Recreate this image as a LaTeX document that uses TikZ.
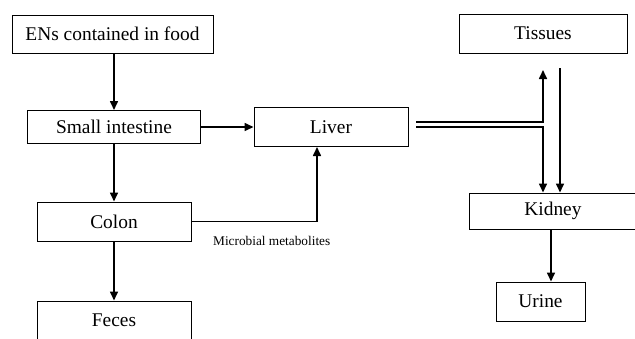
\documentclass[tikz,border=0pt]{standalone}
\usepackage{fontspec}
\setmainfont{Liberation Serif}
\usetikzlibrary{arrows.meta}

\begin{document}
\begin{tikzpicture}[x=1pt,y=-1pt,>={Triangle[length=9pt,width=8pt]},shorten >=0pt,
	box/.style={draw,line width=1pt,minimum height=39pt,inner sep=0pt,font=\fontsize{19.4}{22}\selectfont},
	flow/.style={->,line width=1.6pt}]

\clip (0,0) rectangle (635,338);

\node[box,minimum width=201pt,minimum height=38pt] (food)    at (112.5,34)  {ENs contained in food};
 \node[box,minimum width=173pt,minimum height=33pt] (small) at (114,127) {Small intestine};
	\node[box,minimum width=154pt] (liver)   at (331,127) {Liver};
	\node[box,minimum width=154pt] (colon)   at (114,221.5) {Colon};
	\node[box,minimum width=154pt] (feces)   at (114,320.5) {Feces};
	\node[box,minimum width=168pt] (tissues) at (543,33.5)  {Tissues};
	\node[box,minimum width=167pt,minimum height=36pt] (kidney)  at (553,211) {Kidney};
	\node[box,minimum width=89pt]  (urine)   at (540.5,301.5) {Urine};

	\node[anchor=west,inner sep=0pt,font=\fontsize{13.3}{15}\selectfont] (micro) at (213,241) {Microbial metabolites};

	\coordinate (upper) at (416,122);
	\coordinate (lower) at (416,127);
	\coordinate (up)    at (543,70);
	\coordinate (back)  at (560,68);

	\path (small.north |- food.south) edge[flow] (small.north)
		(small) edge[flow] (liver)
		(small) edge[flow] (colon)
		(colon) edge[flow] (feces);

	\draw[flow] (colon.east) -| ([xshift=-14pt]liver.south);

	\draw[flow] (upper) -| (up);
	\draw[flow] (lower) -| (up |- kidney.north);
	\draw[flow] (back) -- (back |- kidney.north);

	\draw[flow] ([xshift=-2pt]kidney.south) -- ([xshift=-2pt]kidney.south |- urine.north);

\end{tikzpicture}
\end{document}
